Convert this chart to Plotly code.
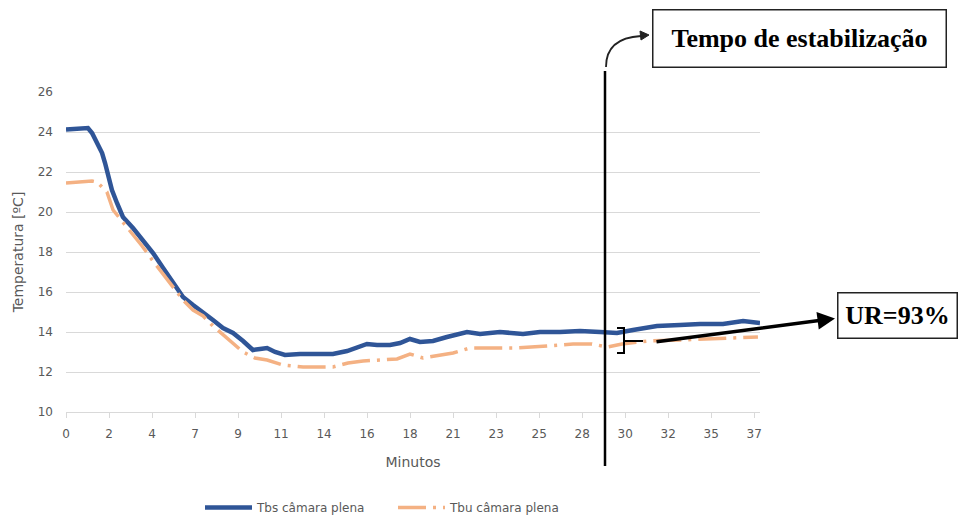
import plotly.graph_objects as go
import numpy as np

# ---------------- data ----------------
time_tbs = [0.0, 0.48, 0.75, 1.18, 1.40, 1.67, 1.94, 2.10, 2.26, 2.47, 2.74, 3.06, 3.60, 4.14,
            4.68, 5.22, 5.75, 6.29, 6.83, 7.37, 7.90, 8.44, 8.98, 9.52, 10.05, 10.43, 10.81,
            11.24, 11.77, 12.58, 13.49, 14.35, 15.11, 15.81, 16.18, 16.72, 17.42, 17.96, 18.49,
            19.03, 19.73, 20.48, 21.18, 21.56, 22.26, 23.33, 24.57, 25.48, 26.56, 27.63, 28.71,
            29.62, 30.48, 31.77, 33.01, 34.09, 35.32, 36.40, 37.31]
tbs = [24.13, 24.15, 24.2, 24.2, 23.95, 23.5, 22.95, 22.45, 21.75, 21.1, 20.45, 19.75, 19.2, 18.6,
       17.95, 17.2, 16.45, 15.75, 15.35, 15.0, 14.6, 14.2, 13.95, 13.55, 13.1, 13.15, 13.2,
       13.0, 12.85, 12.9, 12.9, 12.9, 13.05, 13.3, 13.4, 13.35, 13.35, 13.45, 13.65,
       13.5, 13.55, 13.75, 13.95, 14.0, 13.9, 14.0, 13.9, 14.0, 14.0, 14.05, 14.0,
       13.95, 14.1, 14.3, 14.35, 14.4, 14.4, 14.55, 14.45]

time_tbu = [0.0, 0.75, 1.40, 1.67, 2.20, 2.53, 3.06, 3.60, 4.09, 4.68, 5.43, 5.75, 6.29, 6.83,
            7.37, 7.90, 8.39, 8.82, 9.52, 10.16, 10.81, 11.67, 12.74, 14.35, 15.16, 15.97,
            17.80, 18.49, 19.19, 20.81, 21.72, 22.63, 24.25, 25.86, 27.26, 28.28, 29.09, 29.89,
            31.29, 33.01, 34.46, 35.70, 37.20]
tbu = [21.45, 21.5, 21.55, 21.5, 21.0, 20.1, 19.5, 18.9, 18.3, 17.55, 16.65, 16.25, 15.6, 15.1,
       14.8, 14.3, 13.9, 13.55, 13.0, 12.7, 12.6, 12.35, 12.25, 12.25, 12.45, 12.55,
       12.65, 12.9, 12.7, 12.95, 13.2, 13.2, 13.2, 13.3, 13.4, 13.4, 13.25, 13.4,
       13.55, 13.6, 13.65, 13.7, 13.75]

x_tick_labels = ["0", "2", "4", "7", "9", "11", "14", "16", "18", "21", "23", "25", "28",
                 "30", "32", "35", "37"]
y_ticks = [10, 12, 14, 16, 18, 20, 22, 24, 26]

series_names = ["Tbs câmara plena", "Tbu câmara plena"]
label_tempo = "<b>Tempo de estabilização</b>"
label_ur = "<b>UR=93%</b>"

# ---------------- layout geometry ----------------
W, H = 961, 518
L, R, T, B = 66, 760, 92, 412   # plot area in pixels


def px(xp, yp):
    return (xp - L) / (R - L), (B - yp) / (B - T)


x_tick_vals = list(np.linspace(0, 37, len(x_tick_labels)))

BLUE = "#2F5597"
ORANGE = "#F4B183"
GRAY = "#595959"
GRID = "#D9D9D9"

fig = go.Figure()
fig.add_trace(go.Scatter(x=time_tbs, y=tbs, mode="lines", name=series_names[0],
                         line=dict(color=BLUE, width=4.5)))
fig.add_trace(go.Scatter(x=time_tbu, y=tbu, mode="lines", name=series_names[1],
                         line=dict(color=ORANGE, width=3.5, dash="28px,7px,3px,7px")))

shapes = []
# vertical stabilisation line
x0, y0 = px(605, 71)
x1, y1 = px(605, 466)
shapes.append(dict(type="line", xref="paper", yref="paper", x0=x0, y0=y0, x1=x1, y1=y1,
                   line=dict(color="black", width=2.5)))


def path(points, close=False):
    s = ""
    for i, (a, b) in enumerate(points):
        xa, ya = px(a, b)
        s += ("M" if i == 0 else "L") + f"{xa:.5f},{ya:.5f} "
    if close:
        s += "Z"
    return s


# curved arrow to the box
ca = px(606, 67); cq = px(606, 38); cb = px(641, 36)
shapes.append(dict(type="path", xref="paper", yref="paper",
                   path=f"M{ca[0]:.5f},{ca[1]:.5f} Q{cq[0]:.5f},{cq[1]:.5f} {cb[0]:.5f},{cb[1]:.5f}",
                   line=dict(color="#222222", width=1.8)))
shapes.append(dict(type="path", xref="paper", yref="paper",
                   path=path([(649, 35), (640, 31), (641, 40)], close=True),
                   fillcolor="#222222", line=dict(color="#222222", width=1)))
# bracket
shapes.append(dict(type="path", xref="paper", yref="paper",
                   path=path([(617, 328), (624, 328), (624, 353), (617, 353)]),
                   line=dict(color="black", width=2)))
shapes.append(dict(type="path", xref="paper", yref="paper",
                   path=path([(624, 341), (643, 341)]),
                   line=dict(color="black", width=2)))

annotations = []
# arrow to UR box
tip = px(835, 318.5)
annotations.append(dict(xref="paper", yref="paper", x=tip[0], y=tip[1], text="",
                        showarrow=True, arrowhead=2, arrowsize=1, arrowwidth=3.5,
                        arrowcolor="black", ax=655 - 835, ay=342 - 318.5, axref="pixel",
                        ayref="pixel", standoff=0))
# text boxes
c = px(800, 38)
annotations.append(dict(xref="paper", yref="paper", x=c[0], y=c[1], xanchor="center",
                        yanchor="middle", text=label_tempo, showarrow=False,
                        font=dict(family="Liberation Serif", size=26, color="black"),
                        bordercolor="#222222", borderwidth=1.5, borderpad=0,
                        bgcolor="white", width=292, height=56))
c = px(897.5, 315)
annotations.append(dict(xref="paper", yref="paper", x=c[0], y=c[1], xanchor="center",
                        yanchor="middle", text=label_ur, showarrow=False,
                        font=dict(family="Liberation Serif", size=26, color="black"),
                        bordercolor="#222222", borderwidth=1.5, borderpad=0,
                        bgcolor="white", width=118, height=44))

fig.update_layout(
    width=W, height=H,
    margin=dict(l=L, r=W - R, t=T, b=H - B, pad=0, autoexpand=False),
    paper_bgcolor="white", plot_bgcolor="white",
    font=dict(family="DejaVu Sans", size=12, color=GRAY),
    showlegend=True,
    legend=dict(orientation="h", xref="container", yref="container",
                x=200 / W, y=1 - 493 / H, xanchor="left", yanchor="top",
                font=dict(family="DejaVu Sans", size=12, color=GRAY),
                itemwidth=47, entrywidth=131, entrywidthmode="pixels",
                traceorder="normal"),
    xaxis=dict(range=[0, 37.31], tickmode="array", tickvals=x_tick_vals,
               ticktext=x_tick_labels, showgrid=False, zeroline=False,
               showline=True, linecolor=GRID, linewidth=1,
               ticks="outside", ticklen=5, tickcolor=GRID, tickwidth=1,
               ticklabelstandoff=6,
               tickfont=dict(family="DejaVu Sans", size=12, color=GRAY),
               title=dict(text="Minutos", standoff=16,
                          font=dict(family="DejaVu Sans", size=14, color=GRAY))),
    yaxis=dict(range=[10, 26], tickmode="array", tickvals=y_ticks,
               showgrid=True, gridcolor=GRID, gridwidth=1, zeroline=False,
               showline=False, ticks="", ticklabelstandoff=12,
               tickfont=dict(family="DejaVu Sans", size=12, color=GRAY),
               title=dict(text="Temperatura [ºC]", standoff=10,
                          font=dict(family="DejaVu Sans", size=14, color=GRAY))),
    shapes=shapes,
    annotations=annotations,
)

fig.write_html("out.html")
